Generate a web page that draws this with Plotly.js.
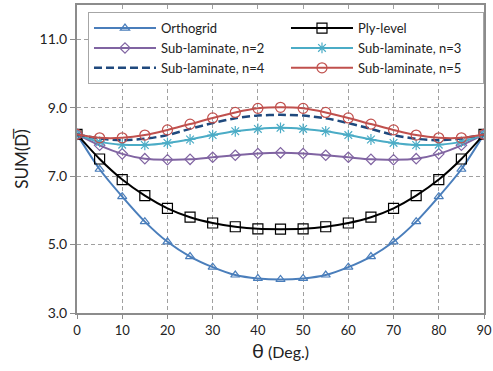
<!DOCTYPE html>
<html>
<head>
<meta charset="utf-8">
<script src="https://cdn.plot.ly/plotly-3.0.1.min.js"></script>
<style>html,body{margin:0;padding:0;background:#fff;}#chart{width:493px;height:371px;}</style>
</head>
<body>
<div id="chart"></div>
<script>
const theta = [0,5,10,15,20,25,30,35,40,45,50,55,60,65,70,75,80,85,90];
const orthogrid = [8.22,7.2,6.4,5.67,5.08,4.65,4.34,4.11,4.01,3.98,4.01,4.11,4.34,4.65,5.08,5.67,6.4,7.2,8.22];
const plyLevel = [8.22,7.5,6.9,6.43,6.06,5.8,5.63,5.52,5.46,5.45,5.46,5.52,5.63,5.8,6.06,6.43,6.9,7.5,8.22];
const subN2 = [8.22,7.9,7.65,7.51,7.48,7.49,7.55,7.61,7.66,7.68,7.66,7.61,7.55,7.49,7.48,7.51,7.65,7.9,8.22];
const subN3 = [8.22,8.0,7.92,7.91,7.97,8.07,8.2,8.31,8.38,8.41,8.38,8.31,8.2,8.07,7.97,7.91,7.92,8.0,8.22];
const subN4 = [8.22,8.1,8.05,8.09,8.2,8.38,8.55,8.69,8.77,8.79,8.77,8.69,8.55,8.38,8.2,8.09,8.05,8.1,8.22];
const subN5 = [8.22,8.12,8.12,8.2,8.35,8.52,8.7,8.86,8.98,9.01,8.98,8.86,8.7,8.52,8.35,8.2,8.12,8.12,8.22];
const seriesNames = ["Orthogrid","Ply-level","Sub-laminate, n=2","Sub-laminate, n=3","Sub-laminate, n=4","Sub-laminate, n=5"];
const yTicks = [3,5,7,9,11];
const xTicks = [0,10,20,30,40,50,60,70,80,90];

function tr(name, y, color, symbol, dash, msize){
  const t = {x: theta, y: y, name: name, type: 'scatter',
    mode: symbol ? 'lines+markers' : 'lines',
    line: {color: color, width: dash ? 2.5 : 2, shape: 'spline', smoothing: 0.8, dash: dash || 'solid'}};
  if (symbol) t.marker = {symbol: symbol, size: msize || 8, color: color, line: {color: color, width: 1.2}};
  return t;
}
const data = [
  tr(seriesNames[0], orthogrid, '#4a7ebb', 'triangle-up-open', null, 8),
  tr(seriesNames[1], plyLevel, '#000000', 'square-open', null, 10),
  tr(seriesNames[2], subN2, '#8064a2', 'diamond-open', null, 8),
  tr(seriesNames[3], subN3, '#4bacc6', 'asterisk-open', null, 9),
  tr(seriesNames[4], subN4, '#1f497d', null, '8px,4px'),
  tr(seriesNames[5], subN5, '#c0504d', 'circle-open', null, 10)
];
const layout = {
  width: 493, height: 371,
  margin: {l: 77, r: 9, t: 5, b: 58},
  paper_bgcolor: '#fff', plot_bgcolor: '#fff',
  font: {family: 'Lato, "Open Sans", sans-serif', size: 13, color: '#222'},
  showlegend: true,
  legend: {orientation: 'h', x: 0.027, y: 0.977, xanchor: 'left', yanchor: 'top',
    bgcolor: '#fff', bordercolor: '#a6a6a6', borderwidth: 1,
    font: {size: 13, color: '#222'}, entrywidth: 120, itemwidth: 62, traceorder: 'normal'},
  xaxis: {range: [0, 90], tickvals: xTicks, ticktext: xTicks.map(String),
    showgrid: true, gridcolor: '#a0a0a0', griddash: '4px,3px', gridwidth: 1,
    showline: true, linecolor: '#8c8c8c', linewidth: 2, mirror: true,
    ticks: 'outside', ticklen: 4, tickcolor: '#8c8c8c', zeroline: false,
    tickfont: {size: 13},
    title: {text: '<span style="font-size:20px">θ</span> (Deg.)', font: {size: 16}, standoff: 4}},
  yaxis: {range: [3, 12], tickvals: yTicks, ticktext: yTicks.map(v => v.toFixed(1)),
    showgrid: true, gridcolor: '#a0a0a0', griddash: '4px,3px', gridwidth: 1,
    showline: true, linecolor: '#8c8c8c', linewidth: 2, mirror: true,
    ticks: 'outside', ticklen: 5, tickcolor: '#8c8c8c', zeroline: false,
    tickfont: {size: 14},
    title: {text: 'SUM(D\u0305)', font: {size: 17}, standoff: 7}}
};
Plotly.newPlot('chart', data, layout, {displayModeBar: false, staticPlot: true});
</script>
</body>
</html>
